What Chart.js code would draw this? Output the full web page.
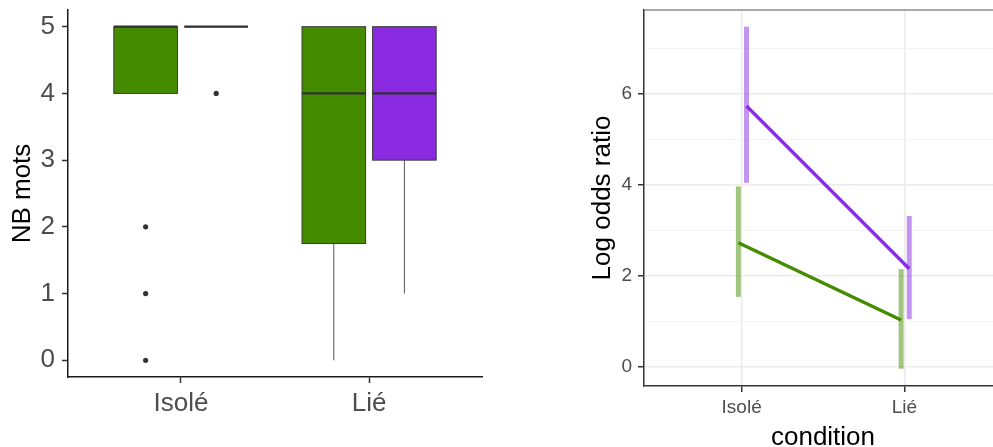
<!DOCTYPE html>
<html><head><meta charset="utf-8">
<script src="https://cdn.jsdelivr.net/npm/chart.js@4.4.1/dist/chart.umd.min.js"></script>
<style>
html,body{margin:0;padding:0;background:#fff;overflow:hidden;width:993px;height:447px;}
#w1{position:absolute;left:0;top:0;width:500px;height:447px;}
#w2{position:absolute;left:560px;top:0;width:450px;height:447px;}
</style></head><body>
<div id="w1"><canvas id="c1"></canvas></div>
<div id="w2"><canvas id="c2"></canvas></div>
<script>
// ---------- data ----------
const categories = ['Isolé', 'Lié'];
// boxplot stats per category: [lowerWhisker, q1, median, q3, upperWhisker]
const boxGreen  = [[4, 4, 5, 5, 5], [0, 1.75, 4, 5, 5]];
const boxPurple = [[5, 5, 5, 5, 5], [1, 3, 4, 5, 5]];
const outliersGreen  = [[2, 1, 0], []];
const outliersPurple = [[4], []];
const yTicksLeft = [0, 1, 2, 3, 4, 5];

const meanGreen  = [2.73, 1.03];
const lowGreen   = [1.54, -0.04];
const highGreen  = [3.97, 2.15];
const meanPurple = [5.74, 2.16];
const lowPurple  = [4.05, 1.05];
const highPurple = [7.48, 3.32];
const yTicksRight = [0, 2, 4, 6];
const yMinorRight = [1, 3, 5, 7];

// ---------- styling ----------
const GREEN = '#458B00', PURPLE = '#8A2BE2';
const FONT = 'Liberation Sans, Arial, sans-serif';
Chart.defaults.font.family = FONT;
const noPad = s => { s.paddingTop = 0; s.paddingBottom = 0; s.paddingLeft = 0; s.paddingRight = 0; };

// ---------- left chart: box plots ----------
const BOX_OFF = 0.1875, BOX_HALF = 0.169;
const groupsL = [
  {stats: boxGreen, out: outliersGreen, color: GREEN, off: -BOX_OFF},
  {stats: boxPurple, out: outliersPurple, color: PURPLE, off: BOX_OFF}
];
const leftDatasets = [];
groupsL.forEach(g => {
  g.stats.forEach((st, i) => {
    const cx = i + 1 + g.off;
    if (st[0] < st[1]) leftDatasets.push({type: 'line', data: [{x: cx, y: st[0]}, {x: cx, y: st[1]}],
      borderColor: '#555', borderWidth: 1, pointRadius: 0});
    if (st[4] > st[3]) leftDatasets.push({type: 'line', data: [{x: cx, y: st[3]}, {x: cx, y: st[4]}],
      borderColor: '#555', borderWidth: 1, pointRadius: 0});
  });
  leftDatasets.push({type: 'scatter',
    data: g.out.flatMap((arr, i) => arr.map(v => ({x: i + 1 + g.off, y: v}))),
    pointRadius: 2.6, pointBackgroundColor: '#333', pointBorderWidth: 0});
});

const boxPlugin = {
  id: 'boxes',
  afterDatasetsDraw(chart) {
    const {ctx, scales: {x, y}} = chart;
    ctx.save();
    groupsL.forEach(g => g.stats.forEach((st, i) => {
      const cx = i + 1 + g.off;
      const x0 = x.getPixelForValue(cx - BOX_HALF), x1 = x.getPixelForValue(cx + BOX_HALF);
      const yq1 = y.getPixelForValue(st[1]), yq3 = y.getPixelForValue(st[3]), ym = y.getPixelForValue(st[2]);
      ctx.fillStyle = g.color;
      ctx.fillRect(x0, yq3, x1 - x0, yq1 - yq3);
      ctx.strokeStyle = '#3a3a3a'; ctx.lineWidth = 1;
      ctx.strokeRect(x0, yq3, x1 - x0, yq1 - yq3);
      ctx.lineWidth = 2.2; ctx.strokeStyle = '#333';
      ctx.beginPath(); ctx.moveTo(x0, ym); ctx.lineTo(x1, ym); ctx.stroke();
    }));
    ctx.restore();
  }
};

new Chart(document.getElementById('c1'), {
  type: 'scatter',
  data: {datasets: leftDatasets},
  plugins: [boxPlugin],
  options: {
    responsive: true, maintainAspectRatio: false, animation: false, devicePixelRatio: 1,
    layout: {padding: {top: 10, right: 18, left: 0, bottom: 0}},
    plugins: {legend: {display: false}, tooltip: {enabled: false}},
    scales: {
      x: {
        type: 'linear', min: 0.4, max: 2.6,
        afterBuildTicks: s => { s.ticks = categories.map((c, i) => ({value: i + 1})); },
        ticks: {callback: v => categories[v - 1], font: {size: 26}, color: '#4D4D4D', padding: 5, maxRotation: 0, autoSkip: false},
        grid: {display: true, drawOnChartArea: false, drawTicks: true, tickLength: 6, tickColor: '#333', tickWidth: 1.5},
        border: {display: true, color: '#1a1a1a', width: 1.5},
        afterFit: s => { s.height = 70; noPad(s); }
      },
      y: {
        type: 'linear', min: -0.25, max: 5.25,
        afterBuildTicks: s => { s.ticks = yTicksLeft.map(v => ({value: v})); },
        ticks: {font: {size: 26}, color: '#4D4D4D', padding: 7},
        grid: {display: true, drawOnChartArea: false, drawTicks: true, tickLength: 6, tickColor: '#333', tickWidth: 1.5},
        border: {display: true, color: '#1a1a1a', width: 1.5},
        title: {display: true, text: 'NB mots', font: {size: 26}, color: '#000', padding: {top: 7, bottom: 0}},
        afterFit: s => { s.width = 68; noPad(s); }
      }
    }
  }
});

// ---------- right chart: log odds ----------
const DODGE_G = -0.02, DODGE_P = 0.03;
const seg = (x, a, b) => [{x: x, y: a}, {x: x, y: b}];
const rightDatasets = [
  {type: 'line', data: meanPurple.map((v, i) => ({x: i + 1 + DODGE_P, y: v})), borderColor: PURPLE, borderWidth: 3.4, pointRadius: 0},
  {type: 'line', data: meanGreen.map((v, i) => ({x: i + 1 + DODGE_G, y: v})), borderColor: GREEN, borderWidth: 3.4, pointRadius: 0}
];
categories.forEach((c, i) => {
  rightDatasets.push({type: 'line', data: seg(i + 1 + DODGE_P, lowPurple[i], highPurple[i]),
    borderColor: 'rgba(138,43,226,0.5)', borderWidth: 5, pointRadius: 0, borderCapStyle: 'butt'});
  rightDatasets.push({type: 'line', data: seg(i + 1 + DODGE_G, lowGreen[i], highGreen[i]),
    borderColor: 'rgba(69,139,0,0.5)', borderWidth: 5, pointRadius: 0, borderCapStyle: 'butt'});
});

const panelTop = {
  id: 'panelTop',
  beforeDatasetsDraw(chart) {
    const {ctx, chartArea: a} = chart;
    ctx.save();
    ctx.strokeStyle = '#8c8c8c'; ctx.lineWidth = 1.5;
    ctx.beginPath(); ctx.moveTo(a.left, a.top); ctx.lineTo(a.right, a.top); ctx.stroke();
    ctx.restore();
  }
};
const isMajor = v => yTicksRight.includes(v);

new Chart(document.getElementById('c2'), {
  type: 'scatter',
  data: {datasets: rightDatasets},
  plugins: [panelTop],
  options: {
    responsive: true, maintainAspectRatio: false, animation: false, devicePixelRatio: 1,
    layout: {padding: {top: 10, right: 8, left: 0, bottom: 0}},
    plugins: {legend: {display: false}, tooltip: {enabled: false}},
    scales: {
      x: {
        type: 'linear', min: 0.4, max: 2.6,
        afterBuildTicks: s => { s.ticks = categories.map((c, i) => ({value: i + 1})); },
        ticks: {callback: v => categories[v - 1], font: {size: 19}, color: '#4D4D4D', padding: 4, maxRotation: 0, autoSkip: false},
        grid: {display: true, drawOnChartArea: true, color: '#EBEBEB', lineWidth: 1.5, drawTicks: true, tickLength: 6, tickColor: '#333', tickWidth: 1.5},
        border: {display: true, color: '#333', width: 1.5},
        title: {display: true, text: 'condition', font: {size: 26}, color: '#000', padding: {top: 0, bottom: -6}},
        afterFit: s => { s.height = 61; noPad(s); }
      },
      y: {
        type: 'linear', min: -0.42, max: 7.85,
        afterBuildTicks: s => { s.ticks = [...yTicksRight, ...yMinorRight].sort((a, b) => a - b).map(v => ({value: v})); },
        ticks: {callback: v => isMajor(v) ? String(v) : '', font: {size: 19}, color: '#4D4D4D', padding: 6},
        grid: {display: true, drawOnChartArea: true,
          color: c => isMajor(c.tick.value) ? '#EBEBEB' : '#F3F3F3',
          lineWidth: c => isMajor(c.tick.value) ? 1.5 : 1,
          drawTicks: true, tickLength: 6,
          tickColor: c => isMajor(c.tick.value) ? '#333' : 'rgba(0,0,0,0)', tickWidth: 1.5},
        border: {display: true, color: '#333', width: 1.5},
        title: {display: true, text: 'Log odds ratio', font: {size: 26}, color: '#000', padding: {top: 27, bottom: 0}},
        afterFit: s => { s.width = 84; noPad(s); }
      }
    }
  }
});
</script>
</body></html>
